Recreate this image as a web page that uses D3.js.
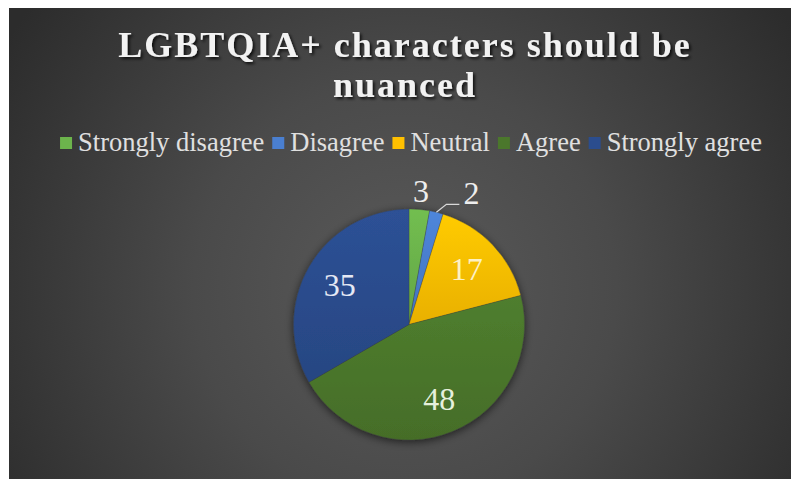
<!DOCTYPE html>
<html>
<head>
<meta charset="utf-8">
<script src="https://cdn.jsdelivr.net/npm/d3@7/dist/d3.min.js"></script>
<style>
  html, body { margin: 0; padding: 0; background: #ffffff; }
  svg { display: block; }
  svg text { font-family: "Liberation Serif", "Times New Roman", Times, serif; }
</style>
</head>
<body>
<svg id="chart" width="791" height="479"></svg>
<script>
// Survey responses for the statement in the title
const categories = ["Strongly disagree", "Disagree", "Neutral", "Agree", "Strongly agree"];
const counts = [3, 2, 17, 48, 35];
const sliceColors = ["#6cb44c", "#4a7fd0", "#ffc000", "#4b772c", "#2b4d8e"];
const labelColors = ["#eeeeee", "#eeeeee", "#fdf1c4", "#e6f0dc", "#e4e8f4"];
const titleLines = ["LGBTQIA+ characters should be", "nuanced"];

const W = 791, H = 479;
const svg = d3.select("#chart");
const defs = svg.append("defs");

// Dark radial backdrop of the chart area
const bg = defs.append("radialGradient").attr("id", "bgGrad")
  .attr("gradientUnits", "userSpaceOnUse")
  .attr("cx", 405).attr("cy", 290).attr("r", 470);
bg.append("stop").attr("offset", "0%").attr("stop-color", "#5a5a5a");
bg.append("stop").attr("offset", "45%").attr("stop-color", "#4a4a4a");
bg.append("stop").attr("offset", "100%").attr("stop-color", "#2c2c2c");

svg.append("rect").attr("x", 9).attr("y", 8).attr("width", W - 9).attr("height", H - 8)
  .attr("fill", "url(#bgGrad)");

// Soft shadows for the title and the pie
const ts = defs.append("filter").attr("id", "titleShadow")
  .attr("x", "-10%").attr("y", "-30%").attr("width", "120%").attr("height", "160%");
ts.append("feDropShadow").attr("dx", 2).attr("dy", 2).attr("stdDeviation", 1.5)
  .attr("flood-color", "#000").attr("flood-opacity", 0.75);

const ps = defs.append("filter").attr("id", "pieShadow")
  .attr("x", "-20%").attr("y", "-20%").attr("width", "140%").attr("height", "140%");
ps.append("feDropShadow").attr("dx", 0).attr("dy", 2).attr("stdDeviation", 4)
  .attr("flood-color", "#000").attr("flood-opacity", 0.6);

// Vertical shading on each slice
sliceColors.forEach((c, i) => {
  const g = defs.append("linearGradient").attr("id", "slice" + i)
    .attr("x1", 0).attr("y1", 0).attr("x2", 0).attr("y2", 1);
  g.append("stop").attr("offset", "0%").attr("stop-color", d3.color(c).brighter(0.15));
  g.append("stop").attr("offset", "100%").attr("stop-color", d3.color(c).darker(0.25));
});

// Title
const title = svg.append("text")
  .attr("text-anchor", "middle")
  .attr("font-weight", "bold")
  .attr("font-size", 36)
  .attr("letter-spacing", 2)
  .attr("fill", "#f2f2f2")
  .attr("filter", "url(#titleShadow)");
titleLines.forEach((t, i) => {
  title.append("tspan").attr("x", 405).attr("y", 57 + i * 40).text(t);
});

// Legend laid out as one centred row
const legend = svg.append("g")
  .attr("font-size", 26.5)
  .attr("fill", "#e0e0e0");
let lx = 0;
categories.forEach((name, i) => {
  const g = legend.append("g");
  g.append("rect").attr("x", 0).attr("y", -14).attr("width", 12).attr("height", 12)
    .attr("fill", sliceColors[i]);
  const txt = g.append("text").attr("x", 18).attr("y", 0).text(name);
  const w = 18 + txt.node().getComputedTextLength();
  g.attr("transform", `translate(${lx},0)`);
  lx += w + 8;
});
const legendWidth = lx - 8;
legend.attr("transform", `translate(${411 - legendWidth / 2},151)`);

// Pie
const cx = 409, cy = 324.5, R = 115.5;
const pie = d3.pie().sort(null).value(d => d)(counts);
const arc = d3.arc().innerRadius(0).outerRadius(R);
const pieG = svg.append("g").attr("transform", `translate(${cx},${cy})`);

pieG.append("g").attr("filter", "url(#pieShadow)")
  .selectAll("path").data(pie).join("path")
  .attr("d", arc)
  .attr("fill", (d, i) => `url(#slice${i})`)
  .attr("stroke", "#3a3a3a")
  .attr("stroke-opacity", 0.35)
  .attr("stroke-width", 0.8);

// Value labels: large slices inside, small slices outside
const inner = d3.arc().innerRadius(80).outerRadius(80);
const outer = d3.arc().innerRadius(134).outerRadius(134);
const labelG = pieG.append("g")
  .attr("font-size", 32)
  .attr("text-anchor", "middle");

pie.forEach((d, i) => {
  const frac = d.value / d3.sum(counts);
  if (frac > 0.1) {
    const [x, y] = inner.centroid(d);
    labelG.append("text").attr("x", x).attr("y", y + 11)
      .attr("fill", labelColors[i]).text(d.value);
  } else if (i === 0) {
    const [x, y] = outer.centroid(d);
    labelG.append("text").attr("x", x).attr("y", y + 11)
      .attr("fill", labelColors[i]).text(d.value);
  } else {
    // Label pulled to the side with a leader line
    const mid = (d.startAngle + d.endAngle) / 2;
    const ex = R * Math.sin(mid), ey = -R * Math.cos(mid);
    const kx = ex + 10, ky = ey - 8;
    pieG.append("polyline")
      .attr("points", [[ex, ey], [kx, ky], [kx + 13, ky]].map(p => p.join(",")).join(" "))
      .attr("fill", "none").attr("stroke", "#d9d9d9").attr("stroke-width", 1.2);
    labelG.append("text").attr("x", kx + 25).attr("y", ky)
      .attr("fill", labelColors[i]).text(d.value);
  }
});
</script>
</body>
</html>
